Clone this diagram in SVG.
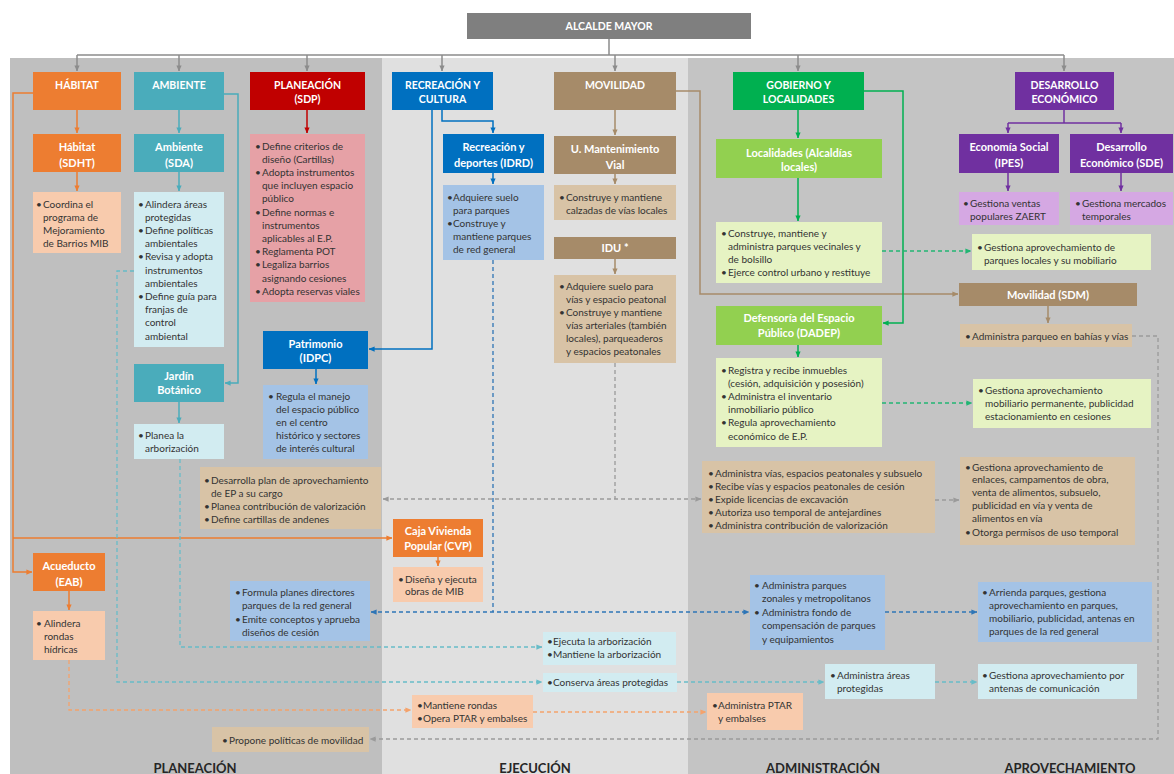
<svg xmlns="http://www.w3.org/2000/svg" width="1174" height="774" viewBox="0 0 1174 774">
<defs>
<style>
.h{font-family:Lato,"Liberation Sans",sans-serif;font-weight:bold;font-size:11px;fill:#fff;text-anchor:middle}
.hc{font-size:10.5px}
.t{font-family:Lato,"Liberation Sans",sans-serif;font-size:10px;fill:#333}
.lab{font-family:Lato,"Liberation Sans",sans-serif;font-weight:bold;font-size:13px;fill:#262626;text-anchor:middle}
.gy{fill:#7f7f7f}
.orH{fill:#ed7d31}.orL{fill:#f8cbad}
.teH{fill:#4aacbb}.teL{fill:#d2ecf1}
.reH{fill:#c00000}.reL{fill:#e6a1a6}
.blH{fill:#0070c0}.blL{fill:#a4c3e6}
.brH{fill:#a68b69}.brL{fill:#d8c3a6}
.grH{fill:#00b050}.grM{fill:#92d050}.grL{fill:#e6f3c3}
.puH{fill:#7030a0}.puL{fill:#d5a8e3}
.c{fill:none;stroke-width:1.5}
.d{fill:none;stroke-width:1.3;stroke-dasharray:4 3}
</style>
<marker id="mGy" viewBox="0 0 8 8" refX="7.5" refY="4" markerWidth="6" markerHeight="6" markerUnits="userSpaceOnUse" orient="auto-start-reverse"><path d="M0,0.5 L8,4 L0,7.5z" fill="#8c8c8c"/></marker>
<marker id="mOr" viewBox="0 0 8 8" refX="7.5" refY="4" markerWidth="6" markerHeight="6" markerUnits="userSpaceOnUse" orient="auto-start-reverse"><path d="M0,0.5 L8,4 L0,7.5z" fill="#ed7d31"/></marker>
<marker id="mTe" viewBox="0 0 8 8" refX="7.5" refY="4" markerWidth="6" markerHeight="6" markerUnits="userSpaceOnUse" orient="auto-start-reverse"><path d="M0,0.5 L8,4 L0,7.5z" fill="#4aacbb"/></marker>
<marker id="mRe" viewBox="0 0 8 8" refX="7.5" refY="4" markerWidth="6" markerHeight="6" markerUnits="userSpaceOnUse" orient="auto-start-reverse"><path d="M0,0.5 L8,4 L0,7.5z" fill="#c00000"/></marker>
<marker id="mBl" viewBox="0 0 8 8" refX="7.5" refY="4" markerWidth="6" markerHeight="6" markerUnits="userSpaceOnUse" orient="auto-start-reverse"><path d="M0,0.5 L8,4 L0,7.5z" fill="#0070c0"/></marker>
<marker id="mBr" viewBox="0 0 8 8" refX="7.5" refY="4" markerWidth="6" markerHeight="6" markerUnits="userSpaceOnUse" orient="auto-start-reverse"><path d="M0,0.5 L8,4 L0,7.5z" fill="#a68b69"/></marker>
<marker id="mGr" viewBox="0 0 8 8" refX="7.5" refY="4" markerWidth="6" markerHeight="6" markerUnits="userSpaceOnUse" orient="auto-start-reverse"><path d="M0,0.5 L8,4 L0,7.5z" fill="#00b050"/></marker>
<marker id="mPu" viewBox="0 0 8 8" refX="7.5" refY="4" markerWidth="6" markerHeight="6" markerUnits="userSpaceOnUse" orient="auto-start-reverse"><path d="M0,0.5 L8,4 L0,7.5z" fill="#7030a0"/></marker>
<marker id="dGy" viewBox="0 0 8 8" refX="7.5" refY="4" markerWidth="6" markerHeight="6" markerUnits="userSpaceOnUse" orient="auto-start-reverse"><path d="M0,0.5 L8,4 L0,7.5z" fill="#9a9a9a"/></marker>
<marker id="dBl" viewBox="0 0 8 8" refX="7.5" refY="4" markerWidth="6" markerHeight="6" markerUnits="userSpaceOnUse" orient="auto-start-reverse"><path d="M0,0.5 L8,4 L0,7.5z" fill="#2e75b6"/></marker>
<marker id="dTe" viewBox="0 0 8 8" refX="7.5" refY="4" markerWidth="6" markerHeight="6" markerUnits="userSpaceOnUse" orient="auto-start-reverse"><path d="M0,0.5 L8,4 L0,7.5z" fill="#67bcc8"/></marker>
<marker id="dOr" viewBox="0 0 8 8" refX="7.5" refY="4" markerWidth="6" markerHeight="6" markerUnits="userSpaceOnUse" orient="auto-start-reverse"><path d="M0,0.5 L8,4 L0,7.5z" fill="#f4a26b"/></marker>
<marker id="dGr" viewBox="0 0 8 8" refX="7.5" refY="4" markerWidth="6" markerHeight="6" markerUnits="userSpaceOnUse" orient="auto-start-reverse"><path d="M0,0.5 L8,4 L0,7.5z" fill="#22b573"/></marker>
</defs>

<rect x="0" y="0" width="1174" height="774" fill="#ffffff"/>
<g id="bands">
<rect x="10" y="58" width="372" height="716" fill="#bfbfbf"/>
<rect x="382" y="58" width="306" height="716" fill="#e0e0e0"/>
<rect x="688" y="58" width="486" height="716" fill="#c4c4c4"/>
</g>

<g id="connectors">
<path class="c" stroke="#8c8c8c" d="M609,39 V55 M77,55 H1064"/>
<path class="c" stroke="#8c8c8c" marker-end="url(#mGy)" d="M77,55 V71"/>
<path class="c" stroke="#8c8c8c" marker-end="url(#mGy)" d="M179,55 V71"/>
<path class="c" stroke="#8c8c8c" marker-end="url(#mGy)" d="M307,55 V71"/>
<path class="c" stroke="#8c8c8c" marker-end="url(#mGy)" d="M442,55 V71"/>
<path class="c" stroke="#8c8c8c" marker-end="url(#mGy)" d="M615,55 V71"/>
<path class="c" stroke="#8c8c8c" marker-end="url(#mGy)" d="M798,55 V71"/>
<path class="c" stroke="#8c8c8c" marker-end="url(#mGy)" d="M1064,55 V71"/>
<path class="c" stroke="#ed7d31" marker-end="url(#mOr)" d="M77,110 V133"/>
<path class="c" stroke="#ed7d31" marker-end="url(#mOr)" d="M77,172 V191"/>
<path class="c" stroke="#ed7d31" marker-end="url(#mOr)" d="M33,93 H13 V572 H32"/>
<path class="c" stroke="#ed7d31" marker-end="url(#mOr)" d="M13,538 H392"/>
<path class="c" stroke="#ed7d31" marker-end="url(#mOr)" d="M69,591 V610"/>
<path class="c" stroke="#ed7d31" marker-end="url(#mOr)" d="M438,557 V566"/>
<path class="c" stroke="#4aacbb" marker-end="url(#mTe)" d="M179,110 V133"/>
<path class="c" stroke="#4aacbb" marker-end="url(#mTe)" d="M179,172 V191"/>
<path class="c" stroke="#4aacbb" marker-end="url(#mTe)" d="M224,94 H238 V383 H225"/>
<path class="c" stroke="#4aacbb" marker-end="url(#mTe)" d="M179,402 V423"/>
<path class="c" stroke="#c00000" marker-end="url(#mRe)" d="M307,110 V133"/>
<path class="c" stroke="#0070c0" marker-end="url(#mBl)" d="M442,110 V121 H493 V133"/>
<path class="c" stroke="#0070c0" marker-end="url(#mBl)" d="M493,173 V184"/>
<path class="c" stroke="#0070c0" marker-end="url(#mBl)" d="M432,110 V349 H369"/>
<path class="c" stroke="#0070c0" marker-end="url(#mBl)" d="M316,369 V384"/>
<path class="c" stroke="#a68b69" marker-end="url(#mBr)" d="M615,110 V135"/>
<path class="c" stroke="#a68b69" marker-end="url(#mBr)" d="M615,174 V184"/>
<path class="c" stroke="#a68b69" marker-end="url(#mBr)" d="M615,259 V274"/>
<path class="c" stroke="#a68b69" marker-end="url(#mBr)" d="M676,91 H700 V294 H958"/>
<path class="c" stroke="#a68b69" marker-end="url(#mBr)" d="M1048,306 V323"/>
<path class="c" stroke="#00b050" marker-end="url(#mGr)" d="M798,110 V138"/>
<path class="c" stroke="#00b050" marker-end="url(#mGr)" d="M798,178 V221"/>
<path class="c" stroke="#00b050" marker-end="url(#mGr)" d="M864,91 H903 V323 H883"/>
<path class="c" stroke="#00b050" marker-end="url(#mGr)" d="M798,345 V357"/>
<path class="c" stroke="#7030a0" d="M1064,110 V123 M1008,123 H1121"/>
<path class="c" stroke="#7030a0" marker-end="url(#mPu)" d="M1008,123 V133"/>
<path class="c" stroke="#7030a0" marker-end="url(#mPu)" d="M1121,123 V133"/>
<path class="c" stroke="#7030a0" marker-end="url(#mPu)" d="M1008,173 V191"/>
<path class="c" stroke="#7030a0" marker-end="url(#mPu)" d="M1121,173 V191"/>
<path class="d" stroke="#22b573" marker-end="url(#dGr)" d="M882,251 H971"/>
<path class="d" stroke="#22b573" marker-end="url(#dGr)" d="M882,403 H972"/>
<path class="d" stroke="#9a9a9a" d="M615,363 V499"/>
<path class="d" stroke="#9a9a9a" marker-start="url(#dGy)" marker-end="url(#dGy)" d="M383,499 H701"/>
<path class="d" stroke="#9a9a9a" marker-end="url(#dGy)" d="M935,500 H959"/>
<path class="d" stroke="#9a9a9a" marker-end="url(#dGy)" d="M1132,336 H1158 V739 H370"/>
<path class="d" stroke="#2e75b6" d="M493,260 V612"/>
<path class="d" stroke="#2e75b6" marker-start="url(#dBl)" marker-end="url(#dBl)" d="M371,612 H749"/>
<path class="d" stroke="#2e75b6" marker-end="url(#dBl)" d="M885,612 H977"/>
<path class="d" stroke="#67bcc8" marker-end="url(#dTe)" d="M180,459 V647 H542"/>
<path class="d" stroke="#67bcc8" marker-end="url(#dTe)" d="M134,271 H117 V682 H542"/>
<path class="d" stroke="#67bcc8" marker-end="url(#dTe)" d="M677,682 H824"/>
<path class="d" stroke="#67bcc8" marker-end="url(#dTe)" d="M935,682 H977"/>
<path class="d" stroke="#f4a26b" marker-end="url(#dOr)" d="M69,660 V710 H411"/>
<path class="d" stroke="#f4a26b" marker-end="url(#dOr)" d="M533,712 H706"/>
</g>

<g id="alcalde"><rect class="gy" x="467" y="13" width="284" height="26"/><text class="h hc" x="609" y="30">ALCALDE MAYOR</text></g>

<g id="habitat"><rect class="orH" x="33" y="72" width="88" height="38"/><text class="h hc" x="77" y="88.5">HÁBITAT</text></g>
<g id="ambiente"><rect class="teH" x="134" y="72" width="90" height="38"/><text class="h hc" x="179" y="88.5">AMBIENTE</text></g>
<g id="planeacion"><rect class="reH" x="250" y="72" width="115" height="38"/><text class="h hc" x="307.5" y="88.5">PLANEACIÓN<tspan x="307.5" y="102.5">(SDP)</tspan></text></g>
<g id="recreacion"><rect class="blH" x="392" y="72" width="101" height="38"/><text class="h hc" x="442.5" y="88.5">RECREACIÓN Y<tspan x="442.5" y="102.5">CULTURA</tspan></text></g>
<g id="movilidad"><rect class="brH" x="554" y="72" width="122" height="38"/><text class="h hc" x="615" y="88.5">MOVILIDAD</text></g>
<g id="gobierno"><rect class="grH" x="733" y="72" width="131" height="38"/><text class="h hc" x="798.5" y="88.5">GOBIERNO Y<tspan x="798.5" y="102.5">LOCALIDADES</tspan></text></g>
<g id="desarrollo"><rect class="puH" x="1015" y="72" width="99" height="38"/><text class="h hc" x="1064.5" y="88.5">DESARROLLO<tspan x="1064.5" y="102.5">ECONÓMICO</tspan></text></g>

<g id="sdht"><rect class="orH" x="33" y="134" width="88" height="38"/><text class="h" x="77" y="150.5">Hábitat<tspan x="77" y="166.5">(SDHT)</tspan></text></g>
<g id="sda"><rect class="teH" x="134" y="134" width="90" height="38"/><text class="h" x="179" y="150.5">Ambiente<tspan x="179" y="166.5">(SDA)</tspan></text></g>
<g id="idrd"><rect class="blH" x="443" y="134" width="101" height="39"/><text class="h" x="493.5" y="150.5">Recreación y<tspan x="493.5" y="166.5">deportes (IDRD)</tspan></text></g>
<g id="umv"><rect class="brH" x="554" y="136" width="122" height="38"/><text class="h" x="615" y="152.5">U. Mantenimiento<tspan x="615" y="168.5">Vial</tspan></text></g>
<g id="localidades"><rect class="grM" x="716" y="139" width="166" height="39"/><text class="h" x="799" y="156.5">Localidades (Alcaldías<tspan x="799" y="170.5">locales)</tspan></text></g>
<g id="ipes"><rect class="puH" x="959" y="134" width="100" height="39"/><text class="h" x="1009" y="150.5">Economía Social<tspan x="1009" y="166.5">(IPES)</tspan></text></g>
<g id="sde"><rect class="puH" x="1070" y="134" width="103" height="39"/><text class="h" x="1121.5" y="150.5">Desarrollo<tspan x="1121.5" y="166.5">Económico (SDE)</tspan></text></g>

<g id="sdht-func"><rect class="orL" x="33" y="192" width="88" height="61"/><text class="t"><tspan x="36" y="207.5">•</tspan><tspan x="43">Coordina el</tspan><tspan x="43" y="220.5">programa de</tspan><tspan x="43" y="233.5">Mejoramiento</tspan><tspan x="43" y="246.5">de Barrios MIB</tspan></text></g>

<g id="sda-func"><rect class="teL" x="134" y="192" width="90" height="155"/><text class="t"><tspan x="138" y="207.5">•</tspan><tspan x="145">Alindera áreas</tspan><tspan x="145" y="220.7">protegidas</tspan><tspan x="138" y="233.9">•</tspan><tspan x="145">Define políticas</tspan><tspan x="145" y="247.1">ambientales</tspan><tspan x="138" y="260.3">•</tspan><tspan x="145">Revisa y adopta</tspan><tspan x="145" y="273.5">instrumentos</tspan><tspan x="145" y="286.7">ambientales</tspan><tspan x="138" y="299.9">•</tspan><tspan x="145">Define guía para</tspan><tspan x="145" y="313.1">franjas de</tspan><tspan x="145" y="326.3">control</tspan><tspan x="145" y="339.5">ambiental</tspan></text></g>

<g id="sdp-func"><rect class="reL" x="250" y="134" width="115" height="168"/><text class="t"><tspan x="255" y="149.5">•</tspan><tspan x="262">Define criterios de</tspan><tspan x="262" y="162.7">diseño (Cartillas)</tspan><tspan x="255" y="175.9">•</tspan><tspan x="262">Adopta instrumentos</tspan><tspan x="262" y="189.1">que incluyen espacio</tspan><tspan x="262" y="202.3">público</tspan><tspan x="255" y="215.5">•</tspan><tspan x="262">Define normas e</tspan><tspan x="262" y="228.7">instrumentos</tspan><tspan x="262" y="241.9">aplicables al E.P.</tspan><tspan x="255" y="255.1">•</tspan><tspan x="262">Reglamenta POT</tspan><tspan x="255" y="268.3">•</tspan><tspan x="262">Legaliza barrios</tspan><tspan x="262" y="281.5">asignando cesiones</tspan><tspan x="255" y="294.7">•</tspan><tspan x="262">Adopta reservas viales</tspan></text></g>

<g id="idrd-func"><rect class="blL" x="443" y="185" width="101" height="75"/><text class="t"><tspan x="447" y="200.5">•</tspan><tspan x="453">Adquiere suelo</tspan><tspan x="453" y="213.5">para parques</tspan><tspan x="447" y="226.5">•</tspan><tspan x="453">Construye y</tspan><tspan x="453" y="239.5">mantiene parques</tspan><tspan x="453" y="252.5">de red general</tspan></text></g>

<g id="umv-func"><rect class="brL" x="554" y="185" width="122" height="35"/><text class="t"><tspan x="559" y="200.5">•</tspan><tspan x="566">Construye y mantiene</tspan><tspan x="566" y="213.5">calzadas de vías locales</tspan></text></g>

<g id="idu"><rect class="brH" x="554" y="237" width="122" height="22"/><text class="h" x="615" y="251.5">IDU *</text></g>
<g id="idu-func"><rect class="brL" x="554" y="275" width="122" height="88"/><text class="t"><tspan x="559" y="289.5">•</tspan><tspan x="566">Adquiere suelo para</tspan><tspan x="566" y="302.5">vías y espacio peatonal</tspan><tspan x="559" y="315.5">•</tspan><tspan x="566">Construye y mantiene</tspan><tspan x="566" y="329">vías arteriales (también</tspan><tspan x="566" y="342">locales), parqueaderos</tspan><tspan x="566" y="355">y espacios peatonales</tspan></text></g>

<g id="localidades-func"><rect class="grL" x="716" y="222" width="166" height="61"/><text class="t"><tspan x="721" y="236.5">•</tspan><tspan x="728">Construye, mantiene y</tspan><tspan x="728" y="250">administra parques vecinales y</tspan><tspan x="728" y="262.5">de bolsillo</tspan><tspan x="721" y="276">•</tspan><tspan x="728">Ejerce control urbano y restituye</tspan></text></g>

<g id="dadep"><rect class="grM" x="716" y="306" width="166" height="39"/><text class="h" x="799" y="321.5">Defensoría del Espacio<tspan x="799" y="336.5">Público (DADEP)</tspan></text></g>
<g id="dadep-func"><rect class="grL" x="716" y="358" width="166" height="89"/><text class="t"><tspan x="721" y="373.5">•</tspan><tspan x="728">Registra y recibe inmuebles</tspan><tspan x="728" y="386.5">(cesión, adquisición y posesión)</tspan><tspan x="721" y="400">•</tspan><tspan x="728">Administra el inventario</tspan><tspan x="728" y="413">inmobiliario público</tspan><tspan x="721" y="426">•</tspan><tspan x="728">Regula aprovechamiento</tspan><tspan x="728" y="439.5">económico de E.P.</tspan></text></g>

<g id="ipes-func"><rect class="puL" x="959" y="192" width="100" height="33"/><text class="t"><tspan x="963" y="206.5">•</tspan><tspan x="970">Gestiona ventas</tspan><tspan x="970" y="219.5">populares ZAERT</tspan></text></g>
<g id="sde-func"><rect class="puL" x="1070" y="192" width="103" height="33"/><text class="t"><tspan x="1075" y="206.5">•</tspan><tspan x="1082">Gestiona mercados</tspan><tspan x="1082" y="219.5">temporales</tspan></text></g>

<g id="aprov-parques-locales"><rect class="grL" x="972" y="234" width="179" height="36"/><text class="t"><tspan x="977" y="251">•</tspan><tspan x="984">Gestiona aprovechamiento de</tspan><tspan x="984" y="264">parques locales y su mobiliario</tspan></text></g>

<g id="sdm"><rect class="brH" x="959" y="283" width="178" height="23"/><text class="h" x="1048" y="298.5">Movilidad (SDM)</text></g>
<g id="sdm-func"><rect class="brL" x="960" y="324" width="172" height="23"/><text class="t"><tspan x="965" y="339.5">•</tspan><tspan x="972">Administra parqueo en bahías y vías</tspan></text></g>

<g id="aprov-mobiliario"><rect class="grL" x="973" y="379" width="178" height="49"/><text class="t"><tspan x="978" y="393.5">•</tspan><tspan x="985">Gestiona aprovechamiento</tspan><tspan x="985" y="406.5">mobiliario permanente, publicidad</tspan><tspan x="985" y="420">estacionamiento en cesiones</tspan></text></g>

<g id="patrimonio"><rect class="blH" x="263" y="331" width="105" height="38"/><text class="h" x="315.5" y="347.5">Patrimonio<tspan x="315.5" y="362">(IDPC)</tspan></text></g>
<g id="patrimonio-func"><rect class="blL" x="263" y="385" width="105" height="74"/><text class="t"><tspan x="268" y="399.5">•</tspan><tspan x="276">Regula el manejo</tspan><tspan x="276" y="412.5">del espacio público</tspan><tspan x="276" y="425.5">en el centro</tspan><tspan x="276" y="438.5">histórico y sectores</tspan><tspan x="276" y="452">de interés cultural</tspan></text></g>

<g id="jardin"><rect class="teH" x="134" y="364" width="90" height="38"/><text class="h" x="179" y="379.5">Jardín<tspan x="179" y="393.5">Botánico</tspan></text></g>
<g id="jardin-func"><rect class="teL" x="134" y="424" width="90" height="35"/><text class="t"><tspan x="138" y="438.5">•</tspan><tspan x="145">Planea la</tspan><tspan x="145" y="452">arborización</tspan></text></g>

<g id="plan-ep"><rect class="brL" x="200" y="467" width="181" height="62"/><text class="t"><tspan x="204" y="483.5">•</tspan><tspan x="211">Desarrolla plan de aprovechamiento</tspan><tspan x="211" y="496.5">de EP a su cargo</tspan><tspan x="204" y="509.5">•</tspan><tspan x="211">Planea contribución de valorización</tspan><tspan x="204" y="523">•</tspan><tspan x="211">Define cartillas de andenes</tspan></text></g>

<g id="adm-vias"><rect class="brL" x="702" y="461" width="233" height="72"/><text class="t"><tspan x="708" y="476.5">•</tspan><tspan x="715">Administra vías, espacios peatonales y subsuelo</tspan><tspan x="708" y="489.5">•</tspan><tspan x="715">Recibe vías y espacios peatonales de cesión</tspan><tspan x="708" y="503">•</tspan><tspan x="715">Expide licencias de excavación</tspan><tspan x="708" y="516">•</tspan><tspan x="715">Autoriza uso temporal de antejardines</tspan><tspan x="708" y="529">•</tspan><tspan x="715">Administra contribución de valorización</tspan></text></g>

<g id="aprov-enlaces"><rect class="brL" x="960" y="457" width="175" height="88"/><text class="t"><tspan x="965" y="470.5">•</tspan><tspan x="972">Gestiona aprovechamiento de</tspan><tspan x="972" y="483">enlaces, campamentos de obra,</tspan><tspan x="972" y="496">venta de alimentos, subsuelo,</tspan><tspan x="972" y="509">publicidad en vía y venta de</tspan><tspan x="972" y="522">alimentos en vía</tspan><tspan x="965" y="535.5">•</tspan><tspan x="972">Otorga permisos de uso temporal</tspan></text></g>

<g id="cvp"><rect class="orH" x="393" y="519" width="90" height="38"/><text class="h" x="438" y="534.5">Caja Vivienda<tspan x="438" y="549.5">Popular (CVP)</tspan></text></g>
<g id="cvp-func"><rect class="orL" x="393" y="567" width="90" height="35"/><text class="t"><tspan x="398" y="582.5">•</tspan><tspan x="405">Diseña y ejecuta</tspan><tspan x="405" y="595">obras de MIB</tspan></text></g>

<g id="eab"><rect class="orH" x="33" y="553" width="72" height="38"/><text class="h" x="69" y="569.5">Acueducto<tspan x="69" y="585.5">(EAB)</tspan></text></g>
<g id="eab-func"><rect class="orL" x="33" y="611" width="72" height="49"/><text class="t"><tspan x="36" y="626.5">•</tspan><tspan x="44">Alindera</tspan><tspan x="44" y="639.5">rondas</tspan><tspan x="44" y="652.5">hídricas</tspan></text></g>

<g id="formula-planes"><rect class="blL" x="230" y="581" width="140" height="60"/><text class="t"><tspan x="235" y="595.5">•</tspan><tspan x="242">Formula planes directores</tspan><tspan x="242" y="609">parques de la red general</tspan><tspan x="235" y="622.5">•</tspan><tspan x="242">Emite conceptos y aprueba</tspan><tspan x="242" y="635.5">diseños de cesión</tspan></text></g>

<g id="adm-parques"><rect class="blL" x="750" y="575" width="135" height="75"/><text class="t"><tspan x="754" y="588.5">•</tspan><tspan x="762">Administra parques</tspan><tspan x="762" y="602">zonales y metropolitanos</tspan><tspan x="754" y="615.5">•</tspan><tspan x="762">Administra fondo de</tspan><tspan x="762" y="629">compensación de parques</tspan><tspan x="762" y="642.5">y equipamientos</tspan></text></g>

<g id="arrienda"><rect class="blL" x="978" y="582" width="174" height="60"/><text class="t"><tspan x="982" y="595.5">•</tspan><tspan x="989">Arrienda parques, gestiona</tspan><tspan x="989" y="608.5">aprovechamiento en parques,</tspan><tspan x="989" y="621.5">mobiliario, publicidad, antenas en</tspan><tspan x="989" y="635">parques de la red general</tspan></text></g>

<g id="ejecuta-arborizacion"><rect class="teL" x="543" y="632" width="133" height="33"/><text class="t"><tspan x="547" y="644.5">•</tspan><tspan x="553">Ejecuta la arborización</tspan><tspan x="547" y="657.5">•</tspan><tspan x="553">Mantiene la arborización</tspan></text></g>

<g id="conserva"><rect class="teL" x="543" y="673" width="134" height="19"/><text class="t"><tspan x="547" y="686">•</tspan><tspan x="553">Conserva áreas protegidas</tspan></text></g>

<g id="adm-protegidas"><rect class="teL" x="825" y="664" width="110" height="35"/><text class="t"><tspan x="830" y="678.5">•</tspan><tspan x="837">Administra áreas</tspan><tspan x="837" y="691.5">protegidas</tspan></text></g>

<g id="antenas"><rect class="teL" x="978" y="664" width="159" height="35"/><text class="t"><tspan x="982" y="678.5">•</tspan><tspan x="989">Gestiona aprovechamiento por</tspan><tspan x="989" y="691.5">antenas de comunicación</tspan></text></g>

<g id="rondas"><rect class="orL" x="412" y="695" width="121" height="33"/><text class="t"><tspan x="417" y="708.5">•</tspan><tspan x="423">Mantiene rondas</tspan><tspan x="417" y="721.5">•</tspan><tspan x="423">Opera PTAR y embalses</tspan></text></g>

<g id="ptar"><rect class="orL" x="707" y="693" width="96" height="37"/><text class="t"><tspan x="712" y="708.5">•</tspan><tspan x="718">Administra PTAR</tspan><tspan x="718" y="721.5">y embalses</tspan></text></g>

<g id="propone"><rect class="brL" x="212" y="727" width="157" height="25"/><text class="t"><tspan x="222" y="743.5">•</tspan><tspan x="229">Propone políticas de movilidad</tspan></text></g>

<g id="labels">
<text class="lab" x="195" y="773">PLANEACIÓN</text>
<text class="lab" x="535" y="773">EJECUCIÓN</text>
<text class="lab" x="823" y="773">ADMINISTRACIÓN</text>
<text class="lab" x="1070" y="773">APROVECHAMIENTO</text>
</g>
</svg>
